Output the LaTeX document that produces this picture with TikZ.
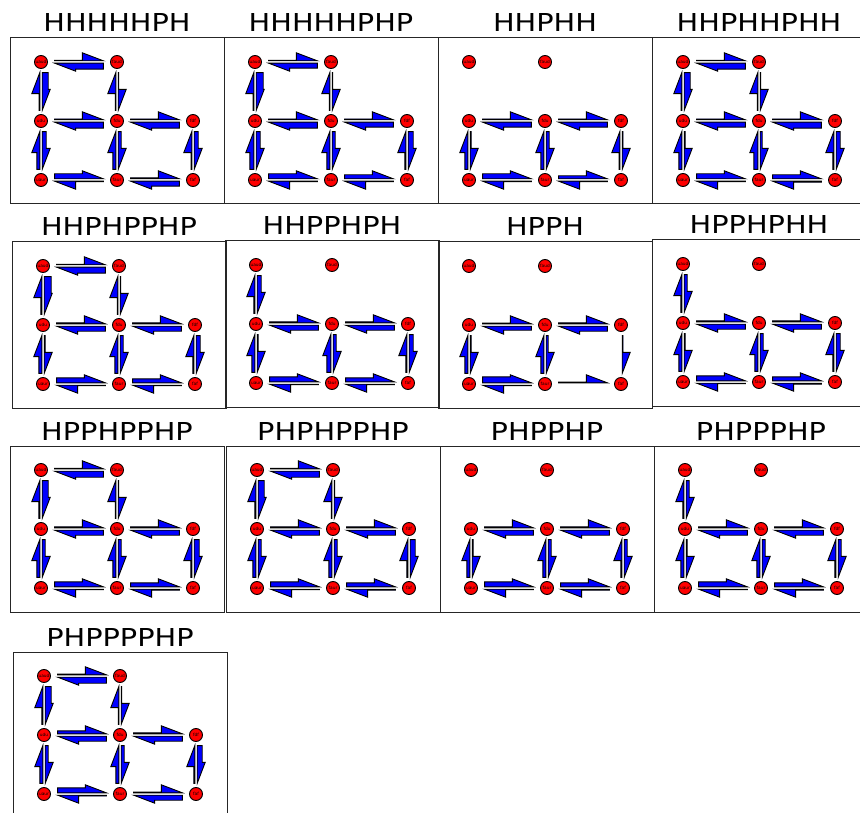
\documentclass[tikz,border=0pt]{standalone}
\usepackage{graphicx}
\usepackage{fontspec}
\setmainfont{DejaVu Sans}
\definecolor{arrblue}{RGB}{0,0,255}
\definecolor{nodered}{RGB}{255,0,0}
\tikzset{
 frame/.style={draw=black!85, line width=1pt},
 ttl/.style={anchor=base, inner sep=0pt, font=\fontsize{24.7}{28}\selectfont},
 st/.style={circle, draw=black, line width=0.9pt, fill=nodered, minimum size=13pt, inner sep=0pt, font=\fontsize{4.3}{4.5}\selectfont},
 harpoon/.style={draw=black, fill=arrblue, line width=0.9pt},
}
% half arrow from node #1 to node #2, body thickness #3 (drawn on the left side of its direction)
\newcommand\harp[3]{%
 \pgfpointdiff{\pgfpointanchor{#1}{center}}{\pgfpointanchor{#2}{center}}%
 \pgfgetlastxy\hdx\hdy
 \pgfmathsetmacro\hL{veclen(\hdx,\hdy)}%
 \pgfmathsetmacro\hA{atan2(\hdy,\hdx)}%
 \pgfmathsetmacro\hS{0.18*\hL}%
 \pgfmathsetmacro\hT{\hL-\hS}%
 \pgfmathsetmacro\hB{\hT-21}%
 \pgfmathsetmacro\hy{1.2+#3}%
 \pgfmathsetmacro\hz{1.2+max(8,#3+1)}%
 \begin{scope}[shift={(#1.center)},rotate=\hA]
  \draw[harpoon] (\hS pt,1.2pt) -- (\hS pt,\hy pt) -- (\hB pt,\hy pt) -- (\hB pt,\hz pt) -- (\hT pt,1.2pt) -- cycle;
 \end{scope}}
\newcommand\panel[4]{%
 \draw[frame] (#2,#3) rectangle ++(214,166);
 \node[ttl] (#1t) at (#2+107,#3-6) {\scalebox{1.165}[1]{#4}};
 \foreach \n/\cx/\cy in {uaud/31/24,faud/107/24,udu/31/83,fdu/107/83,fdf/183/83,uaur/31/142,faur/107/142,faf/183/142}
   {\node[st] (#1\n) at (#2+\cx,#3+\cy) {\n};}%
}
\newcommand\arrs[2]{\foreach \a/\b/\w in {#2} {\harp{#1\a}{#1\b}{\w}}}
\begin{document}
\begin{tikzpicture}[x=1pt,y=-1pt]
\useasboundingbox (0,0) rectangle (860,813);
\fill[white] (0,0) rectangle (860,813);
% row 1
\panel{pa}{10}{38}{HHHHHPH}
\arrs{pa}{uaud/faud/0.5,faud/uaud/6,udu/uaud/0.8,uaud/udu/6,fdu/faud/0.5,faud/fdu/0.5,udu/fdu/0.8,fdu/udu/6,fdu/fdf/0.8,fdf/fdu/6,uaur/udu/3,udu/uaur/4,faur/fdu/3,fdu/faur/3,faf/fdf/0.8,fdf/faf/4,uaur/faur/5,faur/uaur/0.5,faur/faf/1,faf/faur/5}
\panel{pb}{224}{38}{HHHHHPHP}
\arrs{pb}{uaud/faud/0.5,faud/uaud/5,udu/uaud/0.8,uaud/udu/7,fdu/faud/0.5,faud/fdu/0.5,udu/fdu/0.8,fdu/udu/6,fdu/fdf/0.8,fdf/fdu/5,uaur/udu/4,udu/uaur/4,faur/fdu/3,fdu/faur/3,faf/fdf/1,fdf/faf/5,uaur/faur/5,faur/uaur/0.5,faur/faf/4,faf/faur/0.5}
\panel{pc}{438}{38}{HHPHH}
\arrs{pc}{udu/fdu/0.8,fdu/udu/5,fdu/fdf/0.8,fdf/fdu/5,uaur/udu/3,udu/uaur/1,faur/fdu/3,fdu/faur/3,faf/fdf/0.8,fdf/faf/0.8,uaur/faur/5,faur/uaur/0.5,faur/faf/3,faf/faur/0.5}
\panel{pd}{652}{38}{HHPHHPHH}
\arrs{pd}{uaud/faud/0.5,faud/uaud/6,udu/uaud/0.8,uaud/udu/6,fdu/faud/0.5,faud/fdu/0.5,udu/fdu/0.8,fdu/udu/5,fdu/fdf/0.8,fdf/fdu/6,uaur/udu/3,udu/uaur/1,faur/fdu/4,fdu/faur/2,faf/fdf/1,fdf/faf/4,uaur/faur/5,faur/uaur/0.5,faur/faf/4,faf/faur/1}
% row 2
\panel{pe}{12}{242}{HHPHPPHP}
\arrs{pe}{uaud/faud/0.5,faud/uaud/6,udu/uaud/1,uaud/udu/7,fdu/faud/0.5,faud/fdu/0.5,udu/fdu/1,fdu/udu/5,fdu/fdf/1,fdf/fdu/5,uaur/udu/3,udu/uaur/1,faur/fdu/3,fdu/faur/3,faf/fdf/1,fdf/faf/4,uaur/faur/5,faur/uaur/0.5,faur/faf/4,faf/faur/0.5}
\panel{pf}{225}{241}{HHPPHPH}
\arrs{pf}{udu/uaud/1,uaud/udu/4,udu/fdu/1,fdu/udu/5,fdu/fdf/1,fdf/fdu/5,uaur/udu/3,udu/uaur/1,faur/fdu/4,fdu/faur/3,faf/fdf/1,fdf/faf/4,uaur/faur/5,faur/uaur/0.5,faur/faf/4,faf/faur/0.5}
\panel{pg}{438}{242}{HPPH}
\arrs{pg}{udu/fdu/0.8,fdu/udu/4,fdu/fdf/1,fdf/fdu/5,uaur/udu/3,udu/uaur/1,faur/fdu/3,fdu/faur/2,fdf/faf/0.8,uaur/faur/6,faur/uaur/0.5,faur/faf/0.8}
\panel{ph}{652}{240}{HPPHPHH}
\arrs{ph}{udu/uaud/1,uaud/udu/3,udu/fdu/1,fdu/udu/5,fdu/fdf/1,fdf/fdu/5,uaur/udu/3,udu/uaur/1,faur/fdu/3,fdu/faur/3,faf/fdf/1,fdf/faf/4,uaur/faur/5,faur/uaur/0.5,faur/faf/4,faf/faur/1}
% row 3
\panel{pi}{10}{446}{HPPHPPHP}
\arrs{pi}{uaud/faud/0.5,faud/uaud/6,udu/uaud/1,uaud/udu/6,fdu/faud/0.5,faud/fdu/0.5,udu/fdu/1,fdu/udu/5,fdu/fdf/1,fdf/fdu/5,uaur/udu/3,udu/uaur/3,faur/fdu/3,fdu/faur/3,faf/fdf/1,fdf/faf/5,uaur/faur/5,faur/uaur/0.5,faur/faf/4,faf/faur/1}
\panel{pj}{226}{446}{PHPHPPHP}
\arrs{pj}{uaud/faud/0.5,faud/uaud/6,udu/uaud/1,uaud/udu/6,fdu/faud/0.5,faud/fdu/0.5,udu/fdu/1,fdu/udu/5,fdu/fdf/1,fdf/fdu/5,uaur/udu/3,udu/uaur/3,faur/fdu/3,fdu/faur/3,faf/fdf/1,fdf/faf/5,uaur/faur/5,faur/uaur/0.5,faur/faf/4,faf/faur/1}
\panel{pk}{440}{446}{PHPPHP}
\arrs{pk}{udu/fdu/1,fdu/udu/5,fdu/fdf/1,fdf/fdu/5,uaur/udu/3,udu/uaur/1,faur/fdu/3,fdu/faur/3,faf/fdf/1,fdf/faf/3,uaur/faur/5,faur/uaur/0.5,faur/faf/4,faf/faur/1}
\panel{pl}{654}{446}{PHPPPHP}
\arrs{pl}{udu/uaud/1,uaud/udu/3,udu/fdu/1,fdu/udu/5,fdu/fdf/1,fdf/fdu/5,uaur/udu/3,udu/uaur/1,faur/fdu/3,fdu/faur/3,faf/fdf/1,fdf/faf/3,uaur/faur/5,faur/uaur/0.5,faur/faf/4,faf/faur/1}
% row 4
\panel{pm}{13}{652}{PHPPPPHP}
\arrs{pm}{uaud/faud/0.8,faud/uaud/6,udu/uaud/1,uaud/udu/6,fdu/faud/0.5,faud/fdu/0.5,udu/fdu/3,fdu/udu/5,fdu/fdf/1,fdf/fdu/5,uaur/udu/3,udu/uaur/3,faur/fdu/3,fdu/faur/3,faf/fdf/1,fdf/faf/5,uaur/faur/5,faur/uaur/0.8,faur/faf/0.8,faf/faur/5}
\end{tikzpicture}
\end{document}
